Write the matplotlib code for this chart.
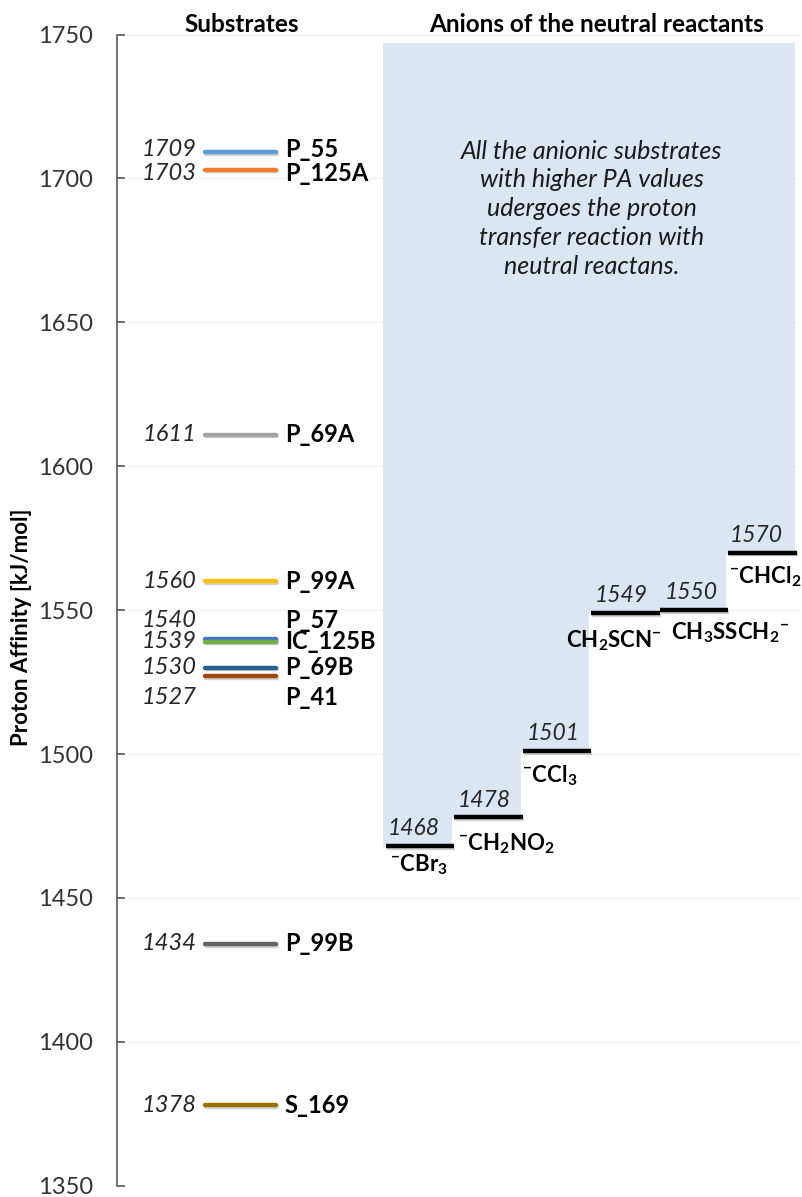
import matplotlib
matplotlib.use("Agg")
import matplotlib.pyplot as plt
import matplotlib.patheffects as pe

plt.rcParams['font.family'] = ['Lato', 'DejaVu Sans']
plt.rcParams['mathtext.fontset'] = 'custom'
plt.rcParams['mathtext.rm'] = 'Lato'
plt.rcParams['mathtext.bf'] = 'Lato:bold'
plt.rcParams['mathtext.it'] = 'Lato:italic'
plt.rcParams['mathtext.default'] = 'bf'

# substrates (anions) and their proton affinities, kJ/mol
substrates = ['P_55', 'P_125A', 'P_69A', 'P_99A', 'P_57', 'IC_125B',
              'P_69B', 'P_41', 'P_99B', 'S_169']
substrate_pa = [1709, 1703, 1611, 1560, 1540, 1539, 1530, 1527, 1434, 1378]
substrate_colors = ['#5B9BD5', '#ED7D31', '#A5A5A5', '#FFC000', '#4472C4',
                    '#70AD47', '#255E91', '#9E480E', '#636363', '#997300']

# anions of the neutral reactants
anions = ['$^{-}$CBr$_{3}$', '$^{-}$CH$_{2}$NO$_{2}$', '$^{-}$CCl$_{3}$',
          'CH$_{2}$SCN$^{-}$', 'CH$_{3}$SSCH$_{2}$$^{-}$', '$^{-}$CHCl$_{2}$']
anion_pa = [1468, 1478, 1501, 1549, 1550, 1570]

shade_top = 1747

# label placement tweaks
substrate_label_dy = [1.2, -1.2, 0, 0, 6.5, 0, 0, -7.5, 0, 0]
value_dx = [0.07, 0.1, 0.1, 0.1, 0.12, 0.07]
name_dx = [0.1, 0.1, 0.03, -0.33, 0.2, 0.06]
name_dy = [-6.5, -9, -8.5, -9.5, -8, -8.5]

fig = plt.figure(figsize=(8.03, 11.97), dpi=100)
ax = fig.add_axes([117 / 803, 1 - 1185.7 / 1197, 683 / 803, 1151.2 / 1197])

ax.set_ylim(1350, 1750)
ax.set_xlim(-3.88, 6.09)
ax.set_yticks(range(1350, 1751, 50))
ax.set_xticks([])
for s in ['top', 'right', 'bottom']:
    ax.spines[s].set_visible(False)
ax.spines['left'].set_color('#595959')
ax.spines['left'].set_linewidth(1.2)
ax.tick_params(axis='y', direction='in', length=6, width=1.2, color='#595959',
               labelsize=17, labelcolor='#333333', pad=17)
ax.set_axisbelow(True)
ax.yaxis.grid(True, color='#F2F2F2', linewidth=0.8)

shadow = [pe.SimpleLineShadow(offset=(0.8, -1.2), shadow_color='#808080', alpha=0.35),
          pe.Normal()]

# shaded region above each anion level
cols = list(range(len(anions)))
ax.bar(cols, [shade_top - v for v in anion_pa], bottom=anion_pa, width=1,
       align='edge', color='#DCE6F2', linewidth=0.6, edgecolor='#DCE6F2', zorder=1)

for i, (name, v) in enumerate(zip(anions, anion_pa)):
    ax.plot([i + 0.04, i + 1.04], [v, v], color='black', lw=3.2,
            solid_capstyle='butt', path_effects=shadow, zorder=3)
    ax.text(i + value_dx[i], v + 6, str(v), ha='left', va='center',
            fontsize=16.5, style='italic', color='#262626', zorder=4)
    ax.text(i + name_dx[i], v + name_dy[i], name, ha='left', va='center',
            fontsize=16, fontweight='bold', color='black', zorder=4)

# substrate levels
for name, v, c, dy in zip(substrates, substrate_pa, substrate_colors, substrate_label_dy):
    ax.plot([-2.6, -1.56], [v, v], color=c, lw=3.2, solid_capstyle='round',
            path_effects=shadow, zorder=3)
    ax.text(-2.72, v + dy, str(v), ha='right', va='center', fontsize=17,
            style='italic', color='#262626')
    ax.text(-1.43, v + dy, name, ha='left', va='center', fontsize=17,
            fontweight='bold', color='black')

ax.text(-2.06, 1753.5, 'Substrates', ha='center', va='center', fontsize=17.5,
        fontweight='bold', clip_on=False)
ax.text(3.12, 1753.5, 'Anions of the neutral reactants', ha='center', va='center',
        fontsize=17.5, fontweight='bold', clip_on=False)

ax.text(3.05, 1689.5,
        'All the anionic substrates\nwith higher PA values\nudergoes the proton\n'
        'transfer reaction with\nneutral reactans.',
        ha='center', va='center', fontsize=18, style='italic', color='#1a1a1a',
        linespacing=1.3, zorder=4)

fig.text(22 / 803, 1 - 627 / 1197, 'Proton Affinity [kJ/mol]', rotation=90,
         ha='center', va='center', fontsize=16, fontweight='bold')

fig.savefig('out.png', dpi=100)
